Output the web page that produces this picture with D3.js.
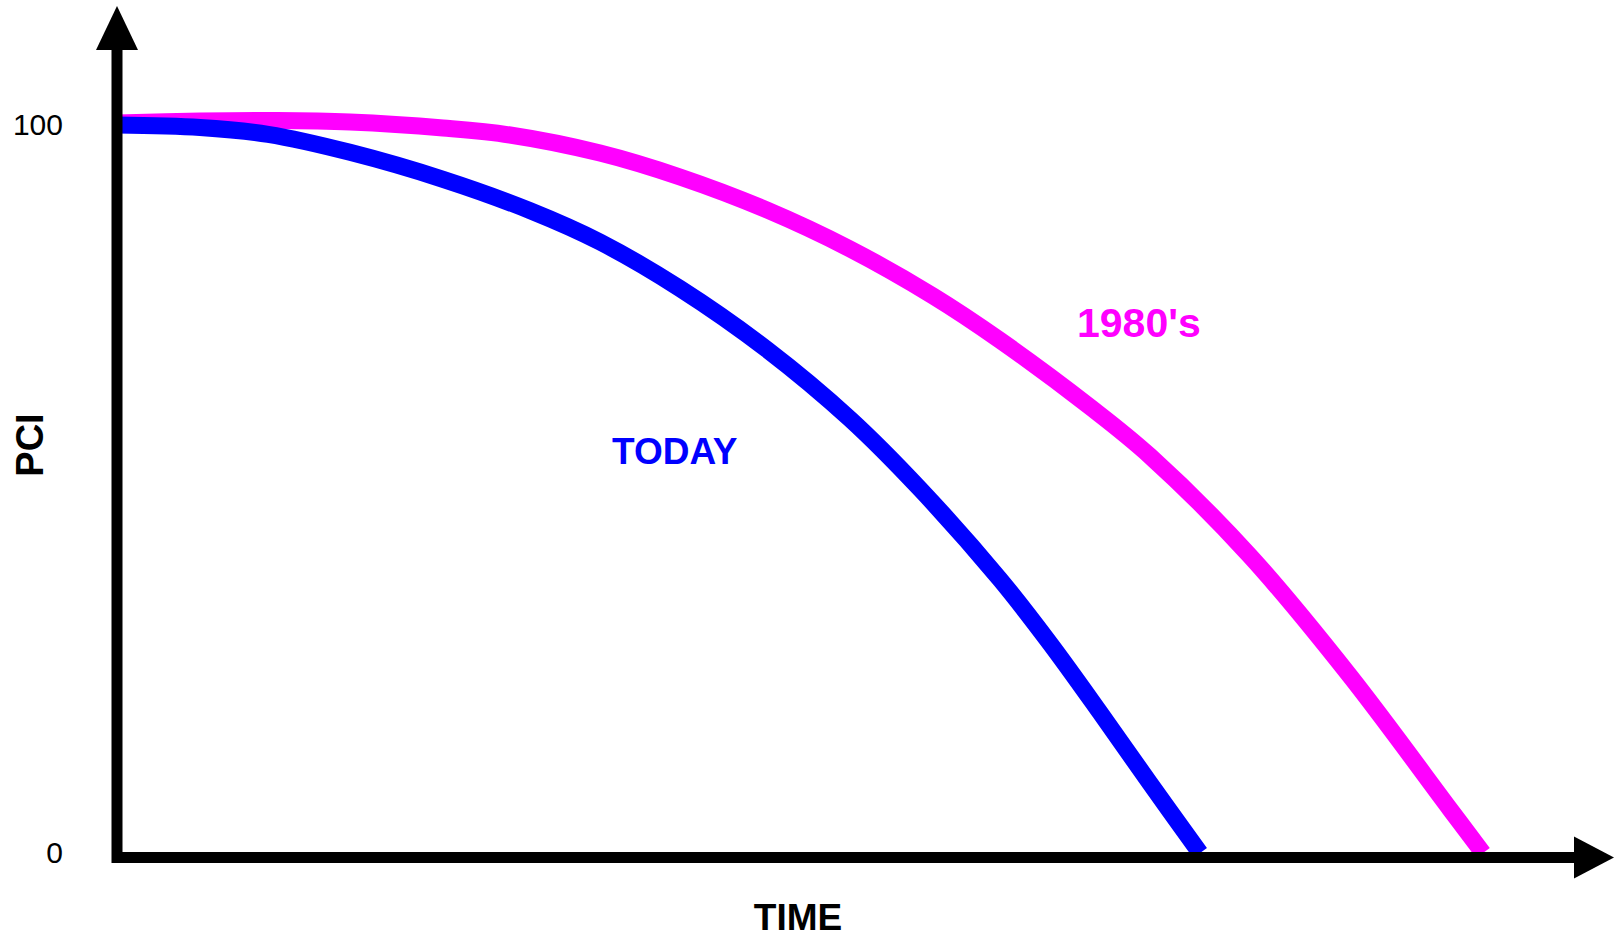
<!DOCTYPE html>
<html>
<head>
<meta charset="utf-8">
<title>PCI over time</title>
<script src="https://cdn.jsdelivr.net/npm/d3@7"></script>
<style>
  body { margin: 0; background: #fff; }
  svg { display: block; font-family: "Liberation Sans", Arial, sans-serif; }
</style>
</head>
<body>
<div id="chart"></div>
<script>
// time is unitless here, 0..100 along the x axis
var todayTime = [0, 5.93, 10.79, 16.64, 23.29, 29.5, 34.5, 40.21, 46.43, 52.36, 57.36, 63.07, 66.64, 70.21, 73.79, 77.36];
var todayPci  = [100, 99.66, 98.72, 96.25, 92.54, 88.24, 83.93, 77.54, 69.16, 59.62, 50.0, 37.58, 28.79, 19.31, 9.56, 0];

var eightiesTime = [0, 5.93, 11.43, 16.64, 23.29, 28.07, 34.5, 40.21, 46.43, 52.36, 58.29, 63.07, 69.5, 73.79, 80.93, 88.07, 95.21, 97.57];
var eightiesPci  = [100.27, 100.55, 100.62, 100.41, 99.59, 98.63, 96.15, 92.86, 88.32, 82.97, 76.51, 70.43, 61.28, 54.52, 40.8, 24.31, 6.04, 0];

var pciTicks = [0, 100];

(function drawChart(){
  var width = 1614, height = 937;
  var svg = d3.select("#chart").append("svg")
    .attr("width", width)
    .attr("height", height);

  var x = d3.scaleLinear().domain([0, 100]).range([117, 1517]);
  var y = d3.scaleLinear().domain([0, 100]).range([853, 125]);

  var line = d3.line()
    .x(d => x(d[0]))
    .y(d => y(d[1]))
    .curve(d3.curveCatmullRom.alpha(0.5));

  function pairs(ts, vs){
    return ts.map(function(t, i){ return [t, vs[i]]; });
  }

  svg.append("path")
    .attr("d", line(pairs(eightiesTime, eightiesPci)))
    .attr("fill", "none")
    .attr("stroke", "#ff00ff")
    .attr("stroke-width", 17);

  svg.append("path")
    .attr("d", line(pairs(todayTime, todayPci)))
    .attr("fill", "none")
    .attr("stroke", "#0000ff")
    .attr("stroke-width", 17);

  /* axes with arrow heads */
  var x0 = x(0), yBase = 857.5;
  svg.append("line")
    .attr("x1", x0).attr("y1", yBase + 5.5)
    .attr("x2", x0).attr("y2", 48)
    .attr("stroke", "#000").attr("stroke-width", 11);
  svg.append("path")
    .attr("d", "M" + (x0 - 21) + ",50L" + x0 + ",6L" + (x0 + 21) + ",50Z")
    .attr("fill", "#000");

  svg.append("line")
    .attr("x1", x0 - 2).attr("y1", yBase)
    .attr("x2", 1576).attr("y2", yBase)
    .attr("stroke", "#000").attr("stroke-width", 11);
  svg.append("path")
    .attr("d", "M1574," + (yBase - 21) + "L1614," + yBase + "L1574," + (yBase + 21) + "Z")
    .attr("fill", "#000");

  var yAxis = svg.append("g")
    .attr("transform", "translate(" + x0 + ",0)")
    .call(d3.axisLeft(y).tickValues(pciTicks).tickSize(0).tickPadding(54).tickFormat(d3.format("d")));
  yAxis.select(".domain").remove();
  yAxis.selectAll("text")
    .attr("font-size", 30)
    .attr("font-family", "Liberation Sans, Arial, sans-serif")
    .attr("fill", "#000");

  /* titles and series labels */
  svg.append("text")
    .attr("transform", "translate(43,445) rotate(-90)")
    .attr("text-anchor", "middle")
    .attr("font-size", 38)
    .attr("font-weight", "bold")
    .text("PCI");

  svg.append("text")
    .attr("x", 798).attr("y", 930)
    .attr("text-anchor", "middle")
    .attr("font-size", 37)
    .attr("font-weight", "bold")
    .text("TIME");

  svg.append("text")
    .attr("x", 612).attr("y", 464)
    .attr("font-size", 37)
    .attr("font-weight", "bold")
    .attr("fill", "#0000ff")
    .text("TODAY");

  svg.append("text")
    .attr("x", 1077).attr("y", 337)
    .attr("font-size", 41)
    .attr("font-weight", "bold")
    .attr("fill", "#ff00ff")
    .text("1980's");
})();
</script>
</body>
</html>
